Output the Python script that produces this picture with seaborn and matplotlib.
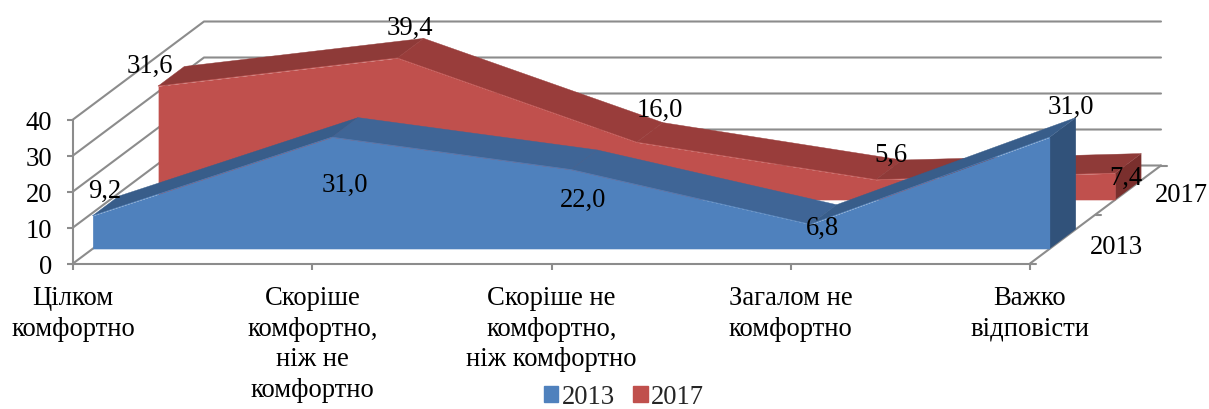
#!/usr/bin/env python3

'''pseudo-3D area chart, 2013 vs 2017'''

import pandas as pd
import matplotlib.pyplot as plt
from matplotlib.patches import Patch
import seaborn as sns

categories = ['Цілком\nкомфортно', 'Скоріше\nкомфортно,\nніж не\nкомфортно',
              'Скоріше не\nкомфортно,\nніж комфортно', 'Загалом не\nкомфортно',
              'Важко\nвідповісти']
values_2013 = [9.2, 31.0, 22.0, 6.8, 31.0]
values_2017 = [31.6, 39.4, 16.0, 5.6, 7.4]
labels_2013 = ['9,2', '31,0', '22,0', '6,8', '31,0']
labels_2017 = ['31,6', '39,4', '16,0', '5,6', '7,4']
y_ticks = [0, 10, 20, 30, 40]

# label offsets from the front top point, pixels
offs_2013 = [(12, 25), (13, -47), (12, -30), (12, -3), (21, 31)]
offs_2017 = [(-8, 21), (12, 31), (23, 33), (15, 25), (11, -4)]

GREY = '#8c8c8c'
FS = 19.2
DX, DY = 131 / 957 * 4, 98 / 144 * 40   # full depth of the floor, in data units

sns.set_theme(style='white')
plt.rcParams['font.family'] = ['Liberation Serif', 'DejaVu Serif']

df = pd.DataFrame({'pos': range(5), '2013': values_2013, '2017': values_2017})
df_melt = pd.melt(df, id_vars=['pos'], var_name='year', value_name='val')

fig = plt.figure(figsize=(12.09, 4.10), dpi=100)
ax = fig.add_axes([73 / 1209, (410 - 264.5) / 410, 957 / 1209, 144 / 410])
ax.patch.set_alpha(0)


def proj(x, y, d):
    return x + d * DX, y + d * DY


# walls and floor
for t in y_ticks:
    x0, y0 = proj(0, t, 0)
    x1, y1 = proj(0, t, 1)
    x2, y2 = proj(4, t, 1)
    ax.plot([x0, x1, x2], [y0, y1, y2], color=GREY, lw=1.5, clip_on=False, zorder=1)
xr, yr = proj(4, 0, 1)
ax.plot([4, xr], [0, yr], color=GREY, lw=1.5, clip_on=False, zorder=1)
for d in [0, 0.5, 1]:
    xd, yd = proj(4, 0, d)
    ax.plot([xd, xd + 0.025], [yd, yd], color=GREY, lw=1.5, clip_on=False, zorder=1)


def ribbon(vals, d0, d1, front, tops, side, z):
    # right end, then top band, then front face
    x0, b0 = proj(4, 0, d0)
    x1, b1 = proj(4, 0, d1)
    ax.fill([x0, x1, x1, x0], [b0, b1, b1 + vals[4], b0 + vals[4]],
            color=side, lw=0, clip_on=False, zorder=z)
    for i in range(4):
        xa, ya = proj(i, vals[i], d0)
        xb, yb = proj(i + 1, vals[i + 1], d0)
        xc, yc = proj(i + 1, vals[i + 1], d1)
        xd, yd = proj(i, vals[i], d1)
        ax.fill([xa, xb, xc, xd], [ya, yb, yc, yd], color=tops[i], lw=0.3,
                clip_on=False, zorder=z)
    xs = [proj(i, 0, d0)[0] for i in range(5)]
    ax.fill_between(xs, [b0] * 5, [b0 + v for v in vals], color=front, lw=0,
                    clip_on=False, zorder=z + 0.1)


ribbon(values_2017, 0.65, 0.85, '#C0504D', ['#8E3A38', '#993D3B', '#993D3B', '#8F3A38'], '#7A2F2D', 3)
ribbon(values_2013, 0.15, 0.35, '#4F81BD', ['#385D8A', '#3F6596', '#3F6596', '#385D8A'], '#31527A', 5)

# front edges of the areas
for year, d, col, z in [('2017', 0.65, '#C0504D', 3.2), ('2013', 0.15, '#4F81BD', 5.2)]:
    sub = df_melt[df_melt['year'] == year].copy()
    sub['px'] = sub['pos'] + d * DX
    sub['py'] = sub['val'] + d * DY
    sns.lineplot(data=sub, x='px', y='py', color=col, lw=0.5, ax=ax, legend=False,
                 clip_on=False, zorder=z)

# data labels
for vals, labs, offs, d in [(values_2017, labels_2017, offs_2017, 0.65),
                            (values_2013, labels_2013, offs_2013, 0.15)]:
    for i, v in enumerate(vals):
        ax.annotate(labs[i], proj(i, v, d), xytext=offs[i], textcoords='offset pixels',
                    ha='center', va='center', fontsize=FS, color='black', zorder=8,
                    annotation_clip=False)

# depth axis labels
ax.annotate('2013', proj(4, 0, 0.25), xytext=(54, -8), textcoords='offset pixels',
            ha='center', va='center', fontsize=FS, color='black', annotation_clip=False)
ax.annotate('2017', proj(4, 0, 0.75), xytext=(53, -5), textcoords='offset pixels',
            ha='center', va='center', fontsize=FS, color='black', annotation_clip=False)

ax.set_xlim(0, 4)
ax.set_ylim(0, 40)
ax.set_xticks(range(5))
ax.set_xticklabels(categories, linespacing=1.29)
ax.set_yticks(y_ticks)
ax.set_xlabel('')
ax.set_ylabel('')
ax.tick_params(axis='x', length=4.5, width=1.5, color=GREY, pad=11, labelsize=FS,
               labelcolor='black', bottom=True)
ax.tick_params(axis='y', length=4, width=1.5, color=GREY, pad=11, labelsize=FS,
               labelcolor='black', left=True)
for s in ['top', 'right']:
    ax.spines[s].set_visible(False)
for s in ['left', 'bottom']:
    ax.spines[s].set_color(GREY)
    ax.spines[s].set_linewidth(1.5)
    ax.spines[s].set_zorder(2)

handles = [Patch(color='#4F81BD', label='2013'), Patch(color='#C0504D', label='2017')]
fig.legend(handles=handles, loc='center', bbox_to_anchor=(624 / 1209, 1 - 398 / 410), ncol=2,
           frameon=False, fontsize=FS, handlelength=0.55, handleheight=0.55,
           handletextpad=0.12, columnspacing=0.7, borderpad=0)

plt.savefig('out.png', dpi=100)
